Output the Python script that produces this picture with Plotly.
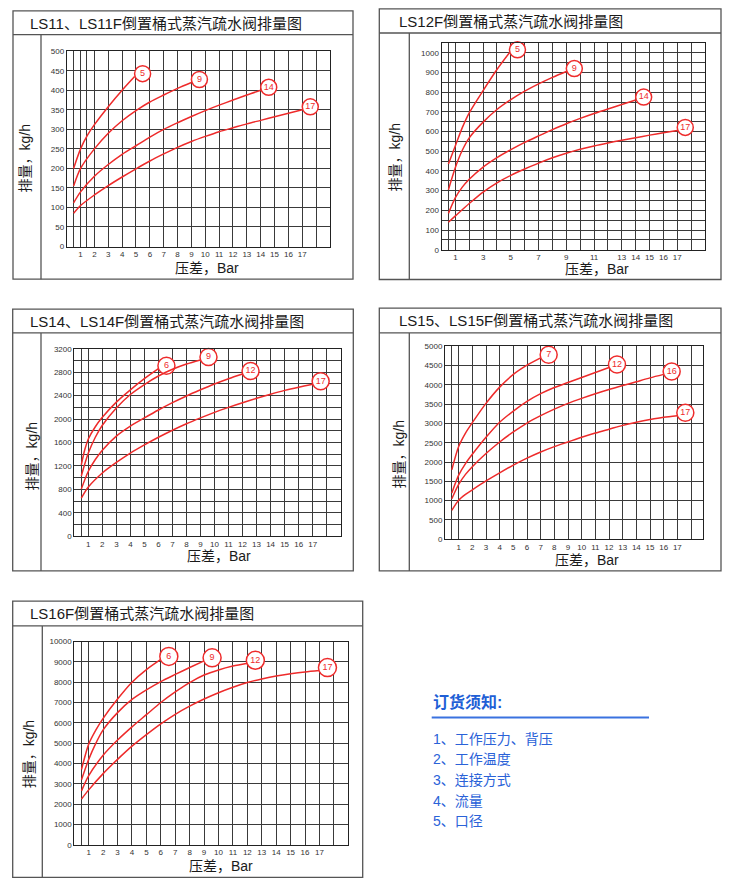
import plotly.graph_objects as go

W, H = 736, 893
FONT = "Arial, 'Liberation Sans', 'Noto Sans CJK SC', sans-serif"
RED = "#ee2b2b"

# ---------------- data ----------------
# Panel 1: LS11 / LS11F
p1_title = "LS11、LS11F倒置桶式蒸汽疏水阀排量图"
p1_names = ["5", "9", "14", "17"]
p1_x5 = [0.5, 1, 1.5, 2, 3, 4, 4.9]
p1_y5 = [200, 250, 285, 312, 358, 400, 435]
p1_x9 = [0.5, 1, 2, 3, 4, 5, 6, 7, 8, 9]
p1_y9 = [155, 200, 250, 290, 322, 348, 370, 388, 405, 420]
p1_x14 = [0.5, 1, 2, 3, 4, 5, 6, 7, 8, 9, 10, 11, 12, 13, 14]
p1_y14 = [112, 140, 180, 210, 236, 258, 280, 300, 317, 333, 348, 362, 375, 388, 400]
p1_x17 = [0.5, 1, 2, 3, 4, 5, 6, 7, 8, 9, 10, 11, 12, 13, 14, 15, 16, 17]
p1_y17 = [85, 105, 132, 156, 178, 199, 219, 237, 254, 269, 282, 294, 304, 314, 323, 332, 341, 350]
p1_xgrid = [0.5, 1, 1.4] + list(range(2, 19))
p1_xlabels = list(range(1, 18))
p1_ygrid = list(range(0, 501, 50))
p1_ylabels = list(range(0, 501, 50))

# Panel 2: LS12F
p2_title = "LS12F倒置桶式蒸汽疏水阀排量图"
p2_names = ["5", "9", "14", "17"]
p2_x5 = [0.5, 1, 1.5, 2, 3, 4, 4.9]
p2_y5 = [435, 528, 620, 695, 808, 915, 1000]
p2_x9 = [0.5, 1, 1.5, 2, 3, 4, 5, 6, 7, 8, 9]
p2_y9 = [305, 418, 505, 568, 648, 712, 762, 805, 842, 875, 905]
p2_x14 = [0.5, 1, 1.5, 2, 3, 4, 5, 6, 7, 8, 9, 10, 11, 12, 13, 14]
p2_y14 = [185, 265, 318, 358, 420, 468, 508, 545, 578, 610, 640, 667, 692, 715, 737, 760]
p2_x17 = [0.5, 1, 2, 3, 4, 5, 6, 7, 8, 9, 10, 11, 12, 13, 14, 15, 16, 17]
p2_y17 = [140, 172, 235, 293, 340, 378, 410, 440, 467, 490, 510, 527, 542, 556, 569, 582, 594, 606]
p2_xgrid = [0.5] + list(range(1, 19))
p2_xlabels = [1, 3, 5, 7, 9, 11, 13, 14, 15, 16, 17]
p2_ygrid = list(range(0, 1051, 50))
p2_ylabels = list(range(0, 1001, 100))

# Panel 3: LS14 / LS14F
p3_title = "LS14、LS14F倒置桶式蒸汽疏水阀排量图"
p3_names = ["6", "9", "12", "17"]
p3_x6 = [0.5, 0.75, 1, 1.5, 2, 3, 4, 5, 6]
p3_y6 = [1220, 1480, 1660, 1870, 2030, 2290, 2500, 2690, 2860]
p3_x9 = [0.5, 1, 1.5, 2, 3, 4, 5, 6, 7, 8, 9]
p3_y9 = [1030, 1420, 1690, 1895, 2190, 2420, 2590, 2735, 2850, 2940, 3010]
p3_x12 = [0.5, 1, 1.5, 2, 3, 4, 5, 6, 7, 8, 9, 10, 11, 12]
p3_y12 = [805, 1110, 1310, 1470, 1710, 1880, 2020, 2155, 2280, 2395, 2500, 2600, 2690, 2770]
p3_x17 = [0.5, 1, 2, 3, 4, 5, 6, 7, 8, 9, 10, 11, 12, 13, 14, 15, 16, 17]
p3_y17 = [650, 840, 1080, 1260, 1420, 1560, 1690, 1810, 1920, 2020, 2115, 2200, 2280, 2355, 2425, 2490, 2545, 2595]
p3_xgrid = [0.5] + list(range(1, 19))
p3_xlabels = list(range(1, 18))
p3_ygrid = list(range(0, 3201, 200))
p3_ylabels = list(range(0, 3201, 400))

# Panel 4: LS15 / LS15F
p4_title = "LS15、LS15F倒置桶式蒸汽疏水阀排量图"
p4_names = ["7", "12", "16", "17"]
p4_x7 = [0.5, 1, 1.5, 2, 3, 4, 5, 6, 7]
p4_y7 = [1800, 2400, 2750, 3020, 3520, 3940, 4270, 4510, 4700]
p4_x12 = [0.5, 1, 1.5, 2, 3, 4, 5, 6, 7, 8, 9, 10, 11, 12]
p4_y12 = [1200, 1660, 1960, 2200, 2640, 3030, 3320, 3570, 3770, 3930, 4060, 4190, 4320, 4450]
p4_x16 = [0.5, 1, 1.5, 2, 3, 4, 5, 6, 7, 8, 9, 10, 11, 12, 13, 14, 15, 16]
p4_y16 = [1050, 1420, 1680, 1880, 2220, 2520, 2780, 3010, 3200, 3370, 3520, 3650, 3770, 3880, 3980, 4080, 4180, 4270]
p4_x17 = [0.5, 1, 1.5, 2, 3, 4, 5, 6, 7, 8, 9, 10, 11, 12, 13, 14, 15, 16, 17]
p4_y17 = [750, 1010, 1160, 1280, 1510, 1720, 1920, 2100, 2260, 2400, 2520, 2640, 2750, 2850, 2950, 3030, 3100, 3160, 3200]
p4_xgrid = [0.5] + list(range(1, 19))
p4_xlabels = list(range(1, 18))
p4_ygrid = list(range(0, 5001, 500))
p4_ylabels = list(range(0, 5001, 500))

# Panel 5: LS16F
p5_title = "LS16F倒置桶式蒸汽疏水阀排量图"
p5_names = ["6", "9", "12", "17"]
p5_x6 = [0.5, 1, 1.5, 2, 3, 4, 5, 6]
p5_y6 = [3700, 4950, 5650, 6220, 7170, 8000, 8620, 9120]
p5_x9 = [0.5, 1, 1.5, 2, 3, 4, 5, 6, 7, 8, 9]
p5_y9 = [3200, 4200, 5000, 5650, 6500, 7150, 7620, 8030, 8380, 8720, 9050]
p5_x12 = [0.5, 1, 2, 3, 4, 5, 6, 7, 8, 9, 10, 11, 12]
p5_y12 = [2650, 3400, 4400, 5150, 5800, 6400, 7000, 7520, 7980, 8350, 8600, 8790, 8930]
p5_x17 = [0.5, 1, 2, 3, 4, 5, 6, 7, 8, 9, 10, 11, 12, 13, 14, 15, 16, 17]
p5_y17 = [2250, 2700, 3500, 4200, 4850, 5420, 5950, 6420, 6820, 7170, 7480, 7750, 7980, 8160, 8300, 8410, 8500, 8570]
p5_xgrid = [0.5] + list(range(1, 19))
p5_xlabels = list(range(1, 18))
p5_ygrid = list(range(0, 10001, 1000))
p5_ylabels = list(range(0, 10001, 1000))

notes_title = "订货须知:"
notes_items = ["1、工作压力、背压", "2、工作温度", "3、连接方式", "4、流量", "5、口径"]

ytitle = "排量，kg/h"
xtitle = "压差，Bar"

# ---------------- layout geometry (pixels) ----------------
panels = [
    dict(title=p1_title, names=p1_names,
         curves=[(p1_x5, p1_y5), (p1_x9, p1_y9), (p1_x14, p1_y14), (p1_x17, p1_y17)],
         xgrid=p1_xgrid, xlabels=p1_xlabels, ygrid=p1_ygrid, ylabels=p1_ylabels,
         box=(13, 7, 353, 278), sep=31, col=41,
         plot=(66.7, 47.7, 330, 245), xr=19, yr=500,
         tpos=(28, 20), ylab=(25, 156), xlab=(207, 267), msize=16),
    dict(title=p2_title, names=p2_names,
         curves=[(p2_x5, p2_y5), (p2_x9, p2_y9), (p2_x14, p2_y14), (p2_x17, p2_y17)],
         xgrid=p2_xgrid, xlabels=p2_xlabels, ygrid=p2_ygrid, ylabels=p2_ylabels,
         box=(379.3, 5, 721, 278.3), sep=29.3, col=409.3,
         plot=(441.5, 39.3, 705, 248.3), xr=19, yr=1050,
         tpos=(397, 18), ylab=(395, 155), xlab=(597, 268), msize=16),
    dict(title=p3_title, names=p3_names,
         curves=[(p3_x6, p3_y6), (p3_x9, p3_y9), (p3_x12, p3_y12), (p3_x17, p3_y17)],
         xgrid=p3_xgrid, xlabels=p3_xlabels, ygrid=p3_ygrid, ylabels=p3_ylabels,
         box=(12.7, 308.3, 353.3, 572.7), sep=332.3, col=41,
         plot=(74.3, 348.3, 340.7, 537.7), xr=19, yr=3200,
         tpos=(28, 321), ylab=(32, 457), xlab=(219, 558), msize=17),
    dict(title=p4_title, names=p4_names,
         curves=[(p4_x7, p4_y7), (p4_x12, p4_y12), (p4_x16, p4_y16), (p4_x17, p4_y17)],
         xgrid=p4_xgrid, xlabels=p4_xlabels, ygrid=p4_ygrid, ylabels=p4_ylabels,
         box=(379.3, 307.3, 721, 572.7), sep=332.3, col=409.3,
         plot=(445, 345.7, 703.3, 540.7), xr=18.9, yr=5000,
         tpos=(397, 320), ylab=(399, 455), xlab=(587, 562), msize=17),
    dict(title=p5_title, names=p5_names,
         curves=[(p5_x6, p5_y6), (p5_x9, p5_y9), (p5_x12, p5_y12), (p5_x17, p5_y17)],
         xgrid=p5_xgrid, xlabels=p5_xlabels, ygrid=p5_ygrid, ylabels=p5_ylabels,
         box=(12.7, 603.3, 362.7, 882.3), sep=628.3, col=42.3,
         plot=(74.3, 644, 348.3, 849.3), xr=19, yr=10000,
         tpos=(28, 616), ylab=(29, 758), xlab=(221, 871), msize=18),
]


def fx(px):
    return px / W


def fy(py):
    return 1 - py / H


fig = go.Figure()
shapes = []
annotations = []
layout_axes = {}

for i, p in enumerate(panels, start=1):
    xa = "x" if i == 1 else f"x{i}"
    ya = "y" if i == 1 else f"y{i}"
    xkey = "xaxis" if i == 1 else f"xaxis{i}"
    ykey = "yaxis" if i == 1 else f"yaxis{i}"
    L, T, R, B = p["plot"]
    xppu = (R - L) / p["xr"]
    yppu = (B - T) / p["yr"]

    layout_axes[xkey] = dict(
        domain=[fx(L), fx(R)], anchor=ya, range=[0, p["xr"]],
        tickmode="array", tickvals=p["xgrid"],
        ticktext=[str(v) if v in p["xlabels"] else "" for v in p["xgrid"]],
        showgrid=True, gridcolor="#3a3a3a", gridwidth=1,
        showline=True, linecolor="#222", linewidth=1, mirror=True,
        zeroline=False, ticks="", fixedrange=True,
        tickfont=dict(family=FONT, size=8, color="#333"),
    )
    layout_axes[ykey] = dict(
        domain=[fy(B), fy(T)], anchor=xa, range=[0, p["yr"]],
        tickmode="array", tickvals=p["ygrid"],
        ticktext=[str(v) if v in p["ylabels"] else "" for v in p["ygrid"]],
        showgrid=True, gridcolor="#3a3a3a", gridwidth=1,
        showline=True, linecolor="#222", linewidth=1, mirror=True,
        zeroline=False, ticks="", fixedrange=True,
        tickfont=dict(family=FONT, size=8, color="#333"),
    )

    for name, (xs, ys) in zip(p["names"], p["curves"]):
        fig.add_trace(go.Scatter(
            x=xs, y=ys, mode="lines", xaxis=xa, yaxis=ya,
            line=dict(color=RED, width=1.5, shape="spline", smoothing=0.8),
            hoverinfo="skip", showlegend=False, cliponaxis=False,
        ))
        # circle label: endpoint shifted ~8px right, 3px up
        lx = xs[-1] + 8 / xppu
        ly = ys[-1] + 3 / yppu
        fig.add_trace(go.Scatter(
            x=[lx], y=[ly], mode="markers+text", text=[name],
            textposition="middle center", xaxis=xa, yaxis=ya,
            marker=dict(size=p["msize"], color="white", line=dict(color=RED, width=1.5)),
            textfont=dict(family=FONT, size=9, color=RED),
            hoverinfo="skip", showlegend=False, cliponaxis=False,
        ))

    bx0, by0, bx1, by1 = p["box"]
    shapes.append(dict(type="rect", xref="paper", yref="paper",
                       x0=fx(bx0), x1=fx(bx1), y0=fy(by1), y1=fy(by0),
                       line=dict(color="#555", width=1.3), layer="above"))
    shapes.append(dict(type="line", xref="paper", yref="paper",
                       x0=fx(bx0), x1=fx(bx1), y0=fy(p["sep"]), y1=fy(p["sep"]),
                       line=dict(color="#555", width=1.3)))
    shapes.append(dict(type="line", xref="paper", yref="paper",
                       x0=fx(p["col"]), x1=fx(p["col"]), y0=fy(p["sep"]), y1=fy(by1),
                       line=dict(color="#555", width=1.3)))

    annotations.append(dict(text=p["title"], xref="paper", yref="paper",
                            x=fx(p["tpos"][0]), y=fy(p["tpos"][1]),
                            xanchor="left", yanchor="middle", showarrow=False,
                            font=dict(family=FONT, size=15, color="#1a1a1a")))
    annotations.append(dict(text=ytitle, xref="paper", yref="paper",
                            x=fx(p["ylab"][0]), y=fy(p["ylab"][1]), textangle=-90,
                            xanchor="center", yanchor="middle", showarrow=False,
                            font=dict(family=FONT, size=14, color="#1a1a1a")))
    annotations.append(dict(text=xtitle, xref="paper", yref="paper",
                            x=fx(p["xlab"][0]), y=fy(p["xlab"][1]),
                            xanchor="center", yanchor="middle", showarrow=False,
                            font=dict(family=FONT, size=14, color="#1a1a1a")))

# Ordering notes
BLUE = "#2a62d8"
annotations.append(dict(text="<b>" + notes_title + "</b>", xref="paper", yref="paper",
                        x=fx(431), y=fy(705), xanchor="left", yanchor="middle",
                        showarrow=False, font=dict(family=FONT, size=16, color="#1f5fd6")))
shapes.append(dict(type="line", xref="paper", yref="paper",
                   x0=fx(431.7), x1=fx(649), y0=fy(720.7), y1=fy(720.7),
                   line=dict(color="#3a72e0", width=2)))
for k, item in enumerate(notes_items):
    annotations.append(dict(text=item, xref="paper", yref="paper",
                            x=fx(431), y=fy(742.3 + k * 20.8), xanchor="left", yanchor="middle",
                            showarrow=False, font=dict(family=FONT, size=14, color=BLUE)))

fig.update_layout(
    width=W, height=H, margin=dict(l=0, r=0, t=0, b=0),
    paper_bgcolor="white", plot_bgcolor="white",
    shapes=shapes, annotations=annotations, showlegend=False,
    **layout_axes,
)

fig.write_html("out.html", config={"displayModeBar": False},
               post_script="document.body.style.margin='0px';document.body.style.overflow='hidden';")
